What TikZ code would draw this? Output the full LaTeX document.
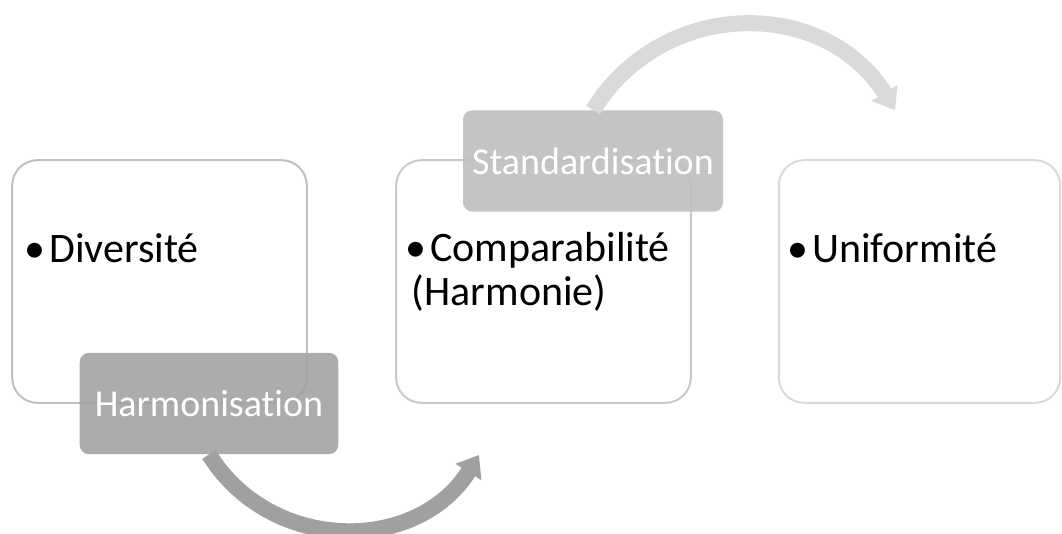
\documentclass[tikz,border=0pt]{standalone}
\usepackage{fontspec}
\setmainfont{Carlito}[Ligatures=NoCommon]
\usepackage{xcolor}
\usetikzlibrary{arrows.meta}

\definecolor{borde1}{HTML}{BFBFBF}
\definecolor{borde2}{HTML}{C9C9C9}
\definecolor{borde3}{HTML}{D9D9D9}
\definecolor{relleno1}{HTML}{A3A3A3}
\definecolor{relleno2}{HTML}{BEBEBE}
\definecolor{flechaosc}{HTML}{A0A0A0}
\definecolor{flechaclara}{HTML}{D9D9D9}

\begin{document}
\begin{tikzpicture}[x=0.75pt,y=0.75pt,
    caja/.style={draw, line width=1.5pt, rounded corners=19pt,
      minimum width=221pt, minimum height=182pt, inner sep=0pt},
    etiqueta/.style={rounded corners=7pt, minimum width=194pt,
      minimum height=76pt, text=white, fill opacity=0.9, text opacity=1,
      font=\fontsize{28.5}{30}\selectfont},
    texto/.style={anchor=base west, inner sep=0pt, align=left,
      font=\fontsize{31.5}{33}\selectfont},
    flecha/.style={line width=12pt, -{Triangle[width=22pt,length=15pt]}}]
        \useasboundingbox (0,0) rectangle (1062,533);

        % Dibuja las cajas
        \node (caja1) at (159.5,251.5) [caja, draw=borde1] {};
        \node (caja2) at (543.5,251.5) [caja, draw=borde2] {};
        \node (caja3) at (919.5,251.5) [caja, draw=borde3, minimum width=211pt] {};

        % Coloca los textos de las cajas
        \node (div) at (24,271) [texto] {\textbullet\hspace{3pt}Diversité};
        \node (comp) at (405,228) [texto] {\textbullet\hspace{3pt}Comparabilité\\\hspace{5pt}(Harmonie)};
        \node (unif) at (787,271) [texto] {\textbullet\hspace{3pt}Uniformité};

        % Coloca las etiquetas grises
        \node (harm) at (209,129.5) [etiqueta, fill=relleno1] {Harmonisation};
        \node (std) at (593,372) [etiqueta, fill=relleno2, minimum width=195pt] {Standardisation};

        % Dibuja las flechas curvas
        \coordinate (fin1) at (479,78);
        \coordinate (fin2) at (895,423);
        \draw[flecha, flechaosc] (harm.south) .. controls (271,-21) and (417,-21) .. (fin1);
        \draw[flecha, flechaclara] (std.north) .. controls (664,537) and (826,535) .. (fin2);
    \end{tikzpicture}
\end{document}
